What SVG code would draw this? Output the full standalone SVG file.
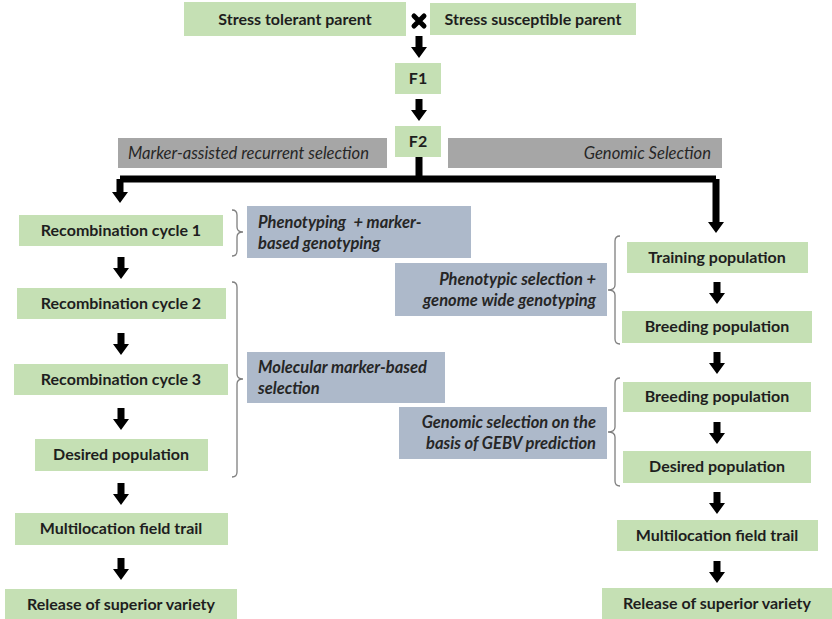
<svg xmlns="http://www.w3.org/2000/svg" width="832" height="619" viewBox="0 0 832 619">
<style>
.g{fill:#c5e0b4}
.b{fill:#adb9ca}
.gr{fill:#a6a6a6}
.t{font-family:Lato,"Liberation Sans",sans-serif;font-size:16px;font-weight:bold;fill:#1e1e1e;text-anchor:middle}
.i{font-family:Lato,"Liberation Sans",sans-serif;font-size:16.6px;font-style:italic;fill:#262626}
.bi{font-family:Lato,"Liberation Sans",sans-serif;font-size:16.5px;font-style:italic;font-weight:bold;fill:#262626}
.br{fill:none;stroke:#7f7f7f;stroke-width:1.3}
.ar{fill:#000}
</style>
<defs>
<path id="arr" d="M-3.5,-22 h7 v11 h4.5 l-8,11 l-8,-11 h4.5 z"/>
</defs>
<rect width="832" height="619" fill="#fff"/>

<g id="method-labels">
<rect class="gr" x="118" y="138" width="269" height="30"/>
<text class="i" x="128" y="159">Marker-assisted recurrent selection</text>
<rect class="gr" x="448" y="138" width="274" height="30"/>
<text class="i" x="711" y="159" text-anchor="end">Genomic Selection</text>
</g>

<g id="parent1"><rect class="g" x="184" y="2" width="222" height="34"/><text class="t" x="295" y="25">Stress tolerant parent</text></g>
<g id="cross"><path d="M414,16 L424,26 M424,16 L414,26" stroke="#000" stroke-width="5" stroke-linecap="round"/></g>
<g id="parent2"><rect class="g" x="430" y="3" width="206" height="32"/><text class="t" x="533" y="25">Stress susceptible parent</text></g>
<g id="f1"><rect class="g" x="395" y="63" width="46" height="31"/><text class="t" x="418" y="84">F1</text></g>
<g id="f2"><rect class="g" x="395" y="126" width="46" height="31"/><text class="t" x="418" y="147">F2</text></g>

<g id="l-rc1"><rect class="g" x="19" y="215" width="204" height="31"/><text class="t" x="121" y="236">Recombination cycle 1</text></g>
<g id="l-rc2"><rect class="g" x="17" y="288" width="209" height="31"/><text class="t" x="121" y="309">Recombination cycle 2</text></g>
<g id="l-rc3"><rect class="g" x="14" y="364" width="214" height="31"/><text class="t" x="121" y="385">Recombination cycle 3</text></g>
<g id="l-desired"><rect class="g" x="35" y="439" width="173" height="32"/><text class="t" x="121" y="460">Desired population</text></g>
<g id="l-field"><rect class="g" x="15" y="513" width="213" height="32"/><text class="t" x="121" y="534">Multilocation field trail</text></g>
<g id="l-release"><rect class="g" x="5" y="589" width="232" height="30"/><text class="t" x="121" y="610">Release of superior variety</text></g>

<g id="r-training"><rect class="g" x="627" y="242" width="181" height="31"/><text class="t" x="717" y="263">Training population</text></g>
<g id="r-breed1"><rect class="g" x="622" y="311" width="190" height="32"/><text class="t" x="717" y="332">Breeding population</text></g>
<g id="r-breed2"><rect class="g" x="623" y="382" width="188" height="30"/><text class="t" x="717" y="402">Breeding population</text></g>
<g id="r-desired"><rect class="g" x="623" y="451" width="188" height="32"/><text class="t" x="717" y="472">Desired population</text></g>
<g id="r-field"><rect class="g" x="617" y="520" width="201" height="31"/><text class="t" x="717" y="541">Multilocation field trail</text></g>
<g id="r-release"><rect class="g" x="602" y="588" width="230" height="31"/><text class="t" x="717" y="609">Release of superior variety</text></g>

<g id="n-pheno"><rect class="b" x="247" y="206" width="224" height="52"/><text class="bi" x="258" y="228" xml:space="preserve">Phenotyping  + marker-</text><text class="bi" x="258" y="249">based genotyping</text></g>
<g id="n-molecular"><rect class="b" x="247" y="352" width="198" height="51"/><text class="bi" x="258" y="373">Molecular marker-based</text><text class="bi" x="258" y="394">selection</text></g>
<g id="n-phenosel"><rect class="b" x="395" y="263" width="212" height="53"/><text class="bi" x="596" y="285" text-anchor="end">Phenotypic selection +</text><text class="bi" x="596" y="306" text-anchor="end">genome wide genotyping</text></g>
<g id="n-gs"><rect class="b" x="399" y="407" width="208" height="52"/><text class="bi" x="596" y="428" text-anchor="end">Genomic selection on the</text><text class="bi" x="596" y="449" text-anchor="end">basis of GEBV prediction</text></g>

<g id="connectors">
<use href="#arr" class="ar" x="419" y="58"/>
<use href="#arr" class="ar" x="419" y="121"/>
<path d="M419,157 V179 M120,179 H716 M120,179 V194 M716,179 V224" stroke="#000" stroke-width="7" fill="none" stroke-linejoin="miter"/>
<path d="M112,192 h16 l-8,11 z M708,222 h16 l-8,11 z" fill="#000"/>
<use href="#arr" class="ar" x="121" y="279"/>
<use href="#arr" class="ar" x="121" y="355"/>
<use href="#arr" class="ar" x="121" y="430"/>
<use href="#arr" class="ar" x="121" y="505"/>
<use href="#arr" class="ar" x="121" y="580"/>
<use href="#arr" class="ar" x="717" y="304"/>
<use href="#arr" class="ar" x="717" y="374"/>
<use href="#arr" class="ar" x="717" y="444"/>
<use href="#arr" class="ar" x="717" y="514"/>
<use href="#arr" class="ar" x="717" y="583"/>
<path class="br" d="M232,210 Q237,210 237,215 V227 Q237,232 243,232 Q237,232 237,237 V251 Q237,256 232,256"/>
<path class="br" d="M232,282 Q237,282 237,287 V374 Q237,379 243,379 Q237,379 237,384 V472 Q237,477 232,477"/>
<path class="br" d="M620,236 Q615,236 615,241 V285 Q615,290 608,290 Q615,290 615,295 V339 Q615,344 620,344"/>
<path class="br" d="M620,378 Q615,378 615,383 V427 Q615,432 608,432 Q615,432 615,437 V481 Q615,486 620,486"/>
</g>
</svg>
